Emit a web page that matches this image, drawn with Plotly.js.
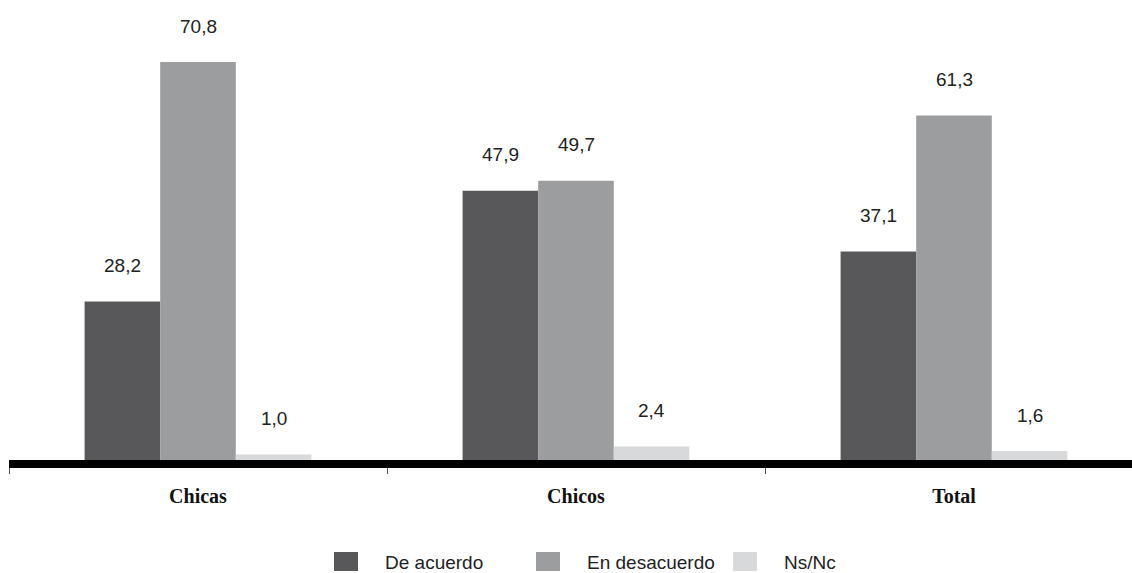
<!DOCTYPE html>
<html>
<head>
<meta charset="utf-8">
<script src="https://cdn.plot.ly/plotly-3.0.1.min.js"></script>
<style>html,body{margin:0;padding:0;background:#fff;}#chart{width:1132px;height:573px;}</style>
</head>
<body>
<div id="chart"></div>
<script>
const categories = ['Chicas', 'Chicos', 'Total'];
const seriesNames = ['De acuerdo', 'En desacuerdo', 'Ns/Nc'];
const deAcuerdo = [28.2, 47.9, 37.1];
const enDesacuerdo = [70.8, 49.7, 61.3];
const nsNc = [1.0, 2.4, 1.6];

const seriesValues = [deAcuerdo, enDesacuerdo, nsNc];
const colors = ['#58585a', '#9c9d9f', '#d8d9da'];
const SANS = '"Liberation Sans", Arial, sans-serif';
const fmt = v => v.toFixed(1).replace('.', ',');

const BARGAP = 0.4;
const barW = (1 - BARGAP) / seriesValues.length;

const traces = seriesValues.map((vals, i) => ({
  type: 'bar',
  x: categories,
  y: vals,
  name: seriesNames[i],
  marker: {color: colors[i], line: {width: 0}},
  showlegend: false,
  hoverinfo: 'skip'
}));

const annotations = [];
seriesValues.forEach((vals, i) => {
  vals.forEach((v, j) => {
    annotations.push({
      x: j + (i - (seriesValues.length - 1) / 2) * barW,
      y: v,
      xref: 'x', yref: 'y',
      text: fmt(v),
      showarrow: false,
      yanchor: 'middle',
      yshift: 36,
      font: {family: SANS, size: 19, color: '#222'}
    });
  });
});

// custom legend (large squares)
const L = 9, T = 20, W = 1123, H = 440;
const px = p => (p - L) / W;
const py = p => (T + H - p) / H;
const legendStarts = [334, 536, 733];
const shapes = [];
seriesNames.forEach((n, i) => {
  const x0 = legendStarts[i];
  shapes.push({type: 'rect', xref: 'paper', yref: 'paper',
    x0: px(x0), x1: px(x0 + 24), y0: py(571), y1: py(552),
    fillcolor: colors[i], line: {width: 0}});
  annotations.push({xref: 'paper', yref: 'paper', x: px(x0 + 49), y: py(562),
    xanchor: 'left', yanchor: 'middle', showarrow: false, text: n,
    font: {family: SANS, size: 19, color: '#222'}});
});

const layout = {
  width: 1132, height: 573,
  margin: {l: L, r: 0, t: T, b: 573 - T - H},
  paper_bgcolor: '#fff', plot_bgcolor: '#fff',
  barmode: 'group', bargap: BARGAP, bargroupgap: 0,
  showlegend: false,
  xaxis: {
    type: 'category',
    range: [-0.5, -0.5 + W / 378],
    showline: true, linecolor: '#000', linewidth: 8,
    ticks: 'outside', tickson: 'boundaries', ticklen: 6, tickwidth: 1, tickcolor: '#555',
    showgrid: false, zeroline: false,
    tickfont: {family: '"Liberation Serif", "Times New Roman", serif', size: 20, weight: 'bold', color: '#111'},
    ticklabelstandoff: 11,
    fixedrange: true
  },
  yaxis: {
    range: [0, H / 5.62],
    visible: false, showgrid: false, zeroline: false, fixedrange: true
  },
  annotations: annotations,
  shapes: shapes
};

Plotly.newPlot('chart', traces, layout, {staticPlot: true, displayModeBar: false});
</script>
</body>
</html>
